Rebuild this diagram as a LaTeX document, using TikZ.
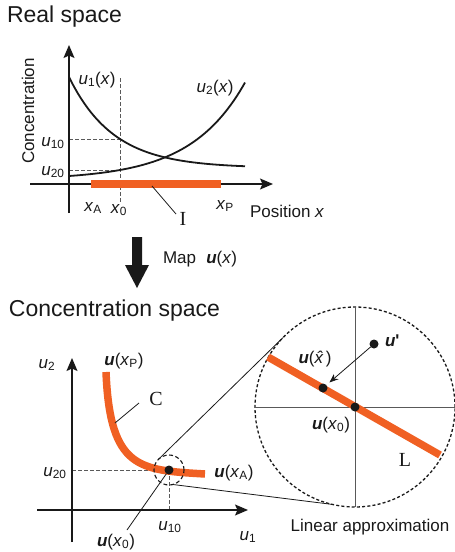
\documentclass[tikz,border=0pt]{standalone}
\usepackage{amsmath}
\usepackage{fontspec}
\setmainfont{Liberation Sans}
\newfontfamily\labelserif{Liberation Serif}
\usetikzlibrary{arrows.meta}
\definecolor{MapInk}{gray}{0.1}
\definecolor{MapGuide}{gray}{0.35}
\definecolor{MapOrange}{RGB}{240,96,35}
\newcommand{\vecu}{\textbf{\textit{u}}}
\newcommand{\xit}{\textit{x}}
\tikzset{
    conc/diagram/.style={
        x=1pt, y=-1pt,
        font=\fontsize{17}{20}\selectfont,
        every node/.style={inner sep=0pt, outer sep=0pt, text=MapInk}
    },
    conc/title/.style={font=\fontsize{23}{27}\selectfont, anchor=base west},
    conc/axis/.style={
        draw=MapInk, line width=1.3pt,
        -{Stealth[length=13pt, width=11pt, inset=2.5pt]}
    },
    conc/curve/.style={draw=MapInk, line width=1.8pt},
    conc/guide/.style={draw=MapGuide, line width=0.9pt, dash pattern=on 3.5pt off 2.5pt},
    conc/band/.style={draw=MapOrange, line width=7.5pt},
    conc/leader/.style={draw=MapInk, line width=0.8pt},
    conc/cross/.style={draw=MapGuide, line width=0.9pt},
    conc/lens/.style={circle, draw=MapInk, line width=1.3pt, dash pattern=on 3pt off 2.2pt},
    conc/dot/.style={circle, fill=MapInk, minimum size=9pt},
    conc/serif/.style={font=\labelserif\fontsize{20}{24}\selectfont},
    conc/pointer/.style={
        draw=MapInk, line width=0.8pt,
        -{Stealth[length=9pt, width=7pt]}
    }
}

\begin{document}
\begin{tikzpicture}[conc/diagram]
    \useasboundingbox (0,0) rectangle (455,552);

    % Real space: the two profiles along x.
    \node[conc/title] (realtitle) at (7,22) {Real space};
    \draw[conc/guide] (69,139) -- (120,139);
    \draw[conc/guide] (69,170) -- (120,170);
    \draw[conc/guide] (120,78) -- (120,203);
    \draw[conc/curve] plot[domain=0:176, samples=60, smooth]
        ({69+\x}, {168-91*exp(-0.0224*\x)});
    \draw[conc/curve] plot[domain=0:176, samples=60, smooth]
        ({69+\x}, {179.89-3.89*exp(0.0183*\x)});
    \draw[conc/axis] (69,213) -- (69,45);
    \draw[conc/axis] (30,184) -- (273,184);
    \draw[conc/band] (91,184) -- (221,184);
    \node[rotate=90] (concaxis) at (28,111) {Concentration};
    \node (uone) at (97,80) {\textit{u}\textsubscript{1}(\xit)};
    \node (utwo) at (215,88) {\textit{u}\textsubscript{2}(\xit)};
    \node (uten) at (53,143) {\textit{u}\textsubscript{10}};
    \node (utwenty) at (53,172) {\textit{u}\textsubscript{20}};
    \node (xa) at (93,208) {\xit\textsubscript{A}};
    \node (xzero) at (119,210) {\xit\textsubscript{0}};
    \node (xp) at (225,206) {\xit\textsubscript{P}};
    \node[anchor=west] (posx) at (250,211) {Position \xit};
    \node[conc/serif] (ilabel) at (183,219) {I};
    \coordinate (ifoot) at (152,186);
    \coordinate (ihead) at (176,214);
    \draw[conc/leader] (ifoot) -- (ihead);

    % The map between the two spaces.
    \fill[MapInk] (132,237) -- (142,237) -- (142,265) -- (149,265)
        -- (137,288) -- (125,265) -- (132,265) -- cycle;
    \node[anchor=west] (maplabel) at (163,259) {Map\hspace{0.6em}\vecu(\xit)};

    % Concentration space with the curve C.
    \node[conc/title] (conctitle) at (9,316) {Concentration space};
    \draw[conc/guide] (72,470) -- (169,470);
    \draw[conc/guide] (169,470) -- (169,510);
    \draw[conc/axis] (72,542) -- (72,358);
    \draw[conc/axis] (37,510) -- (248,510);
    \draw[conc/band] (106,372) .. controls (110,470) and (140,470) .. (205,474);
    \node[conc/dot] (pzero) at (169,470) {};
    \node[conc/lens, minimum size=30pt, line width=1.1pt, dash pattern=on 4pt off 2.5pt] (spot) at (169,470) {};
    \node (utwoaxis) at (47,365) {\textit{u}\textsubscript{2}};
    \node (uoneaxis) at (248,537) {\textit{u}\textsubscript{1}};
    \node (uxp) at (124,361) {\vecu(\xit\textsubscript{P})};
    \node (uxa) at (234,473) {\vecu(\xit\textsubscript{A})};
    \node (utwentyb) at (55,473) {\textit{u}\textsubscript{20}};
    \node (utenb) at (170,527) {\textit{u}\textsubscript{10}};
    \node (uxzero) at (116,542) {\vecu(\xit\textsubscript{0})};
    \node[conc/serif] (clabel) at (156,399) {C};
    \coordinate (cfoot) at (115,423);
    \coordinate (chead) at (139,403);
    \draw[conc/leader] (cfoot) -- (chead);
    \coordinate (zerofoot) at (127,530);
    \draw[conc/leader] (zerofoot) -- (pzero);

    % Linear approximation around u(x_0).
    \node[conc/lens, minimum size=200pt] (lens) at (355,407) {};
    \draw[conc/cross] (lens.west) -- (lens.east);
    \draw[conc/cross] (lens.north) -- (lens.south);
    \draw[conc/leader] (spot.135) -- (lens.136);
    \draw[conc/leader] (spot.285) -- (lens.257);
    \draw[conc/band] (268,357) -- (440,455);
    \node[conc/dot] (pcenter) at (355,407) {};
    \node[conc/dot] (phat) at (323,388) {};
    \node[conc/dot] (pprime) at (374,344) {};
    \draw[conc/pointer, shorten >=4pt] (pprime) -- (phat);
    \node[anchor=west] (uprime) at (385,341) {\vecu\textbf{\textquotesingle}};
    \node (uhat) at (315,359) {\vecu(\textit{\^{x}})};
    \node (uzero) at (331,425) {\vecu(\xit\textsubscript{0})};
    \node[conc/serif] (llabel) at (405,460) {L};
    \node (linapprox) at (370,527) {Linear approximation};
\end{tikzpicture}
\end{document}
